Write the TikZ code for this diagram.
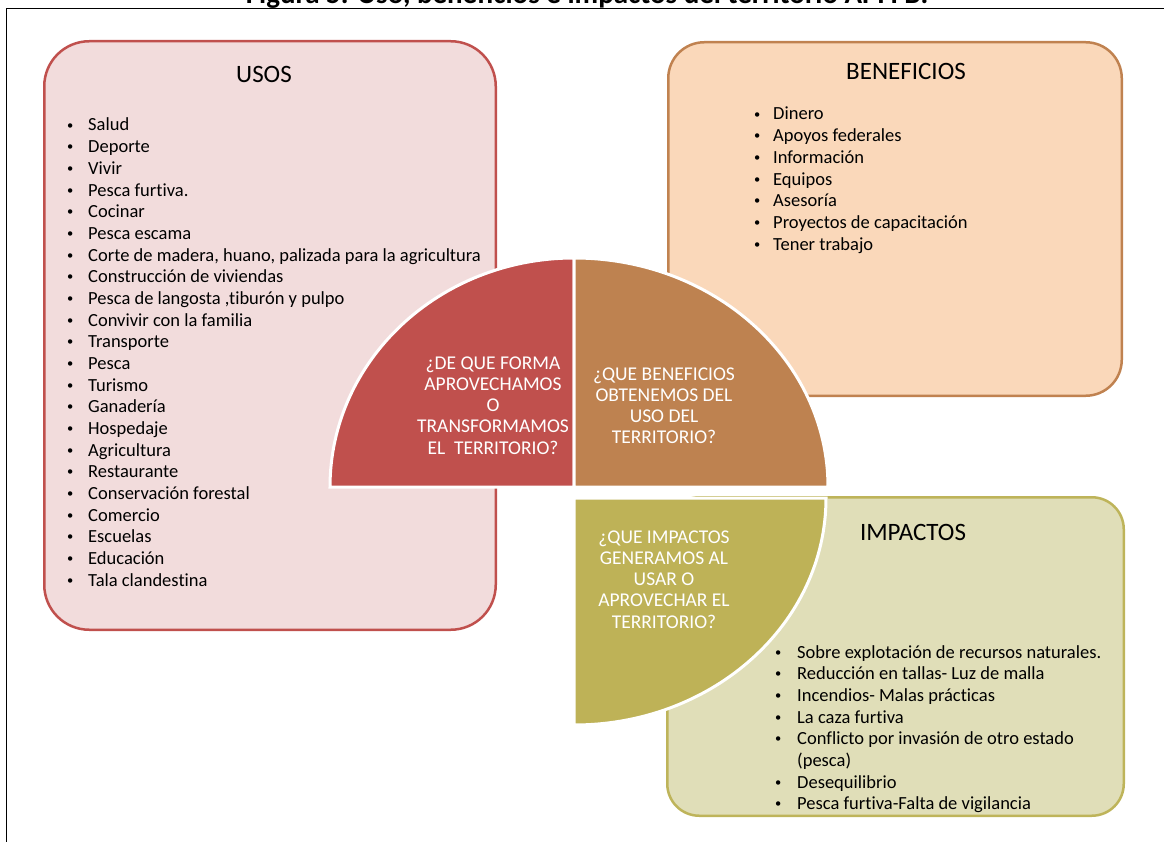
\documentclass[tikz,border=0pt]{standalone}
\usepackage{fontspec}
\setmainfont{Carlito}[Ligatures={NoCommon}]
\definecolor{cRed}{RGB}{192,80,77}
\definecolor{cBrown}{RGB}{190,130,80}
\definecolor{cOlive}{RGB}{190,178,87}
\definecolor{fUsos}{RGB}{242,220,220}
\definecolor{fBen}{RGB}{250,216,186}
\definecolor{fImp}{RGB}{224,222,184}
\definecolor{bBen}{RGB}{192,130,80}
\definecolor{bImp}{RGB}{190,180,90}
\newlength\bgap
\newcommand\bi{\makebox[0pt][c]{\raisebox{1.8pt}{\fontsize{12.5}{12.5}\selectfont •}}\hspace{\bgap}}
\newcommand\bodyf{\fontsize{18.5}{21.67}\selectfont}
\newcommand\titf{\fontsize{25}{30}\selectfont}
\newcommand\qf{\fontsize{19.5}{21.3}\selectfont}
\begin{document}
\begin{tikzpicture}[x=1pt,y=-1pt,
  panel/.style={draw, line width=2.5pt, inner sep=0pt},
  quarter/.style={draw=white, line width=3pt},
  qtext/.style={text=white, font=\qf, inner sep=0pt, anchor=base},
  ttext/.style={font=\titf, inner sep=0pt, anchor=base},
  ltext/.style={font=\bodyf, inner sep=0pt, anchor=base west}]
\useasboundingbox (0,0) rectangle (1164,842);
% title and frame
\node[anchor=base, inner sep=0pt, font=\bfseries\fontsize{29}{30}\selectfont] (title) at (587,4) {Figura 5. Uso, beneficios e impactos del territorio APFFB.};
\coordinate (fBL) at (6.5,850);
\coordinate (fTR) at (1175,8.5);
\draw[line width=1.8pt] (fBL) |- (fTR);
% panels
\node[panel, draw=cRed, fill=fUsos, rounded corners=45pt, minimum width=451.5pt, minimum height=588.5pt] (usos) at (270,335.5) {};
\node[panel, draw=bBen, fill=fBen, rounded corners=36pt, minimum width=453.5pt, minimum height=353.5pt] (ben) at (895,219) {};
\node[panel, draw=bImp, fill=fImp, rounded corners=32pt, minimum width=456.5pt, minimum height=318.5pt] (imp) at (895.5,656.5) {};
% titles
\node[ttext] (tusos) at (264,83) {USOS};
\node[ttext] (tben) at (906,80) {BENEFICIOS};
\node[ttext] (timp) at (913,540) {IMPACTOS};
% lists
\node[ltext] (lusos) at (70,131) {\setlength\bgap{18pt}\begin{tabular}[t]{@{}l@{}}
\bi Salud\\
\bi Deporte\\
\bi Vivir\\
\bi Pesca furtiva.\\
\bi Cocinar\\
\bi Pesca escama\\
\bi Corte de madera, huano, palizada para la agricultura\\
\bi Construcción de viviendas\\
\bi Pesca de langosta ,tiburón y pulpo\\
\bi Convivir con la familia\\
\bi Transporte\\
\bi Pesca\\
\bi Turismo\\
\bi Ganadería\\
\bi Hospedaje\\
\bi Agricultura\\
\bi Restaurante\\
\bi Conservación forestal\\
\bi Comercio\\
\bi Escuelas\\
\bi Educación\\
\bi Tala clandestina
\end{tabular}};
\node[ltext] (lben) at (757,120) {\setlength\bgap{16pt}\begin{tabular}[t]{@{}l@{}}
\bi Dinero\\
\bi Apoyos federales\\
\bi Información\\
\bi Equipos\\
\bi Asesoría\\
\bi Proyectos de capacitación\\
\bi Tener trabajo
\end{tabular}};
% quarters
\path[quarter, fill=cRed] (574,487) -- (330,487) arc[start angle=180, end angle=90, x radius=244pt, y radius=229pt] -- cycle;
\path[quarter, fill=cBrown] (574,487) -- (574,258) arc[start angle=90, end angle=0, x radius=254pt, y radius=229pt] -- cycle;
\path[quarter, fill=cOlive] (574,498) -- (826,498) arc[start angle=0, end angle=-90, x radius=252pt, y radius=227pt] -- cycle;
\node[ltext] (limp) at (778,658) {\setlength\bgap{19pt}\begin{tabular}[t]{@{}l@{}}
\bi Sobre explotación de recursos naturales.\\
\bi Reducción en tallas- Luz de malla\\
\bi Incendios- Malas prácticas\\
\bi La caza furtiva\\
\bi Conflicto por invasión de otro estado\\
\hspace{19pt}(pesca)\\
\bi Desequilibrio\\
\bi Pesca furtiva-Falta de vigilancia
\end{tabular}};
% quarter texts
\node[qtext] (qred) at (493,369) {\begin{tabular}[t]{@{}c@{}}¿DE QUE FORMA\\ APROVECHAMOS\\ O\\ TRANSFORMAMOS\\ EL~~TERRITORIO?\end{tabular}};
\node[qtext] (qbrown) at (664,380) {\begin{tabular}[t]{@{}c@{}}¿QUE BENEFICIOS\\ OBTENEMOS DEL\\ USO DEL\\ TERRITORIO?\end{tabular}};
\node[qtext] (qolive) at (664,543) {\begin{tabular}[t]{@{}c@{}}¿QUE IMPACTOS\\ GENERAMOS AL\\ USAR O\\ APROVECHAR EL\\ TERRITORIO?\end{tabular}};
\end{tikzpicture}
\end{document}
